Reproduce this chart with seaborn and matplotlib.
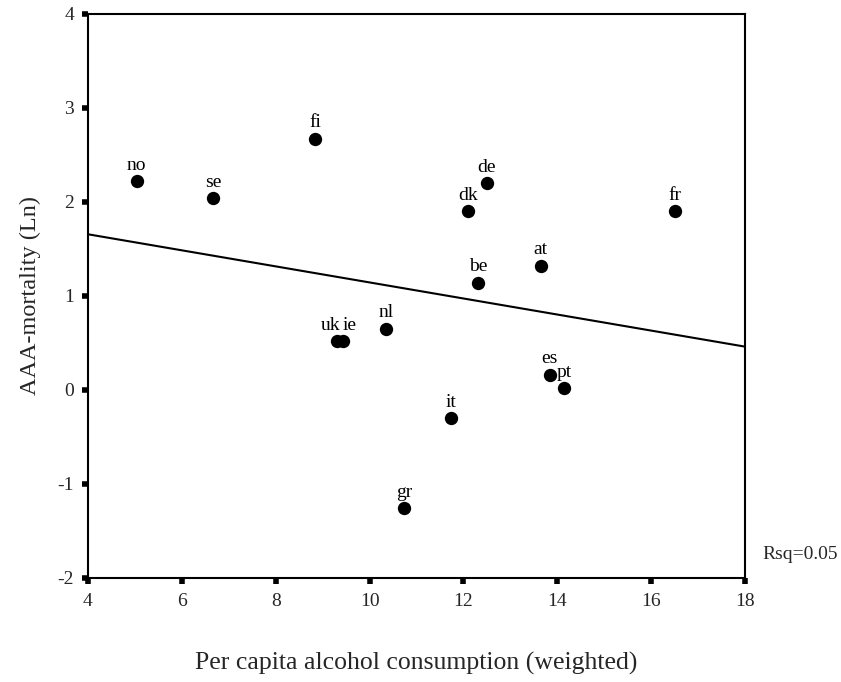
import matplotlib
matplotlib.use("Agg")
import matplotlib.pyplot as plt
import seaborn as sns
import pandas as pd
import numpy as np

countries = ["no", "se", "fi", "de", "dk", "fr", "at", "be", "nl", "uk", "ie", "es", "pt", "it", "gr"]
alcohol = [5.04, 6.66, 8.84, 12.50, 12.10, 16.51, 13.65, 12.31, 10.35, 9.31, 9.43, 13.84, 14.14, 11.73, 10.73]
mortality = [2.22, 2.04, 2.67, 2.20, 1.90, 1.90, 1.32, 1.14, 0.65, 0.52, 0.52, 0.16, 0.02, -0.30, -1.26]
x_ticks = [4, 6, 8, 10, 12, 14, 16, 18]
y_ticks = [-2, -1, 0, 1, 2, 3, 4]

df = pd.DataFrame({"country": countries, "alcohol": alcohol, "mortality": mortality})

sns.set_style("white")
plt.rcParams["font.family"] = ["Liberation Serif", "DejaVu Serif"]
plt.rcParams["axes.unicode_minus"] = False

fig = plt.figure(figsize=(8.41, 6.82), dpi=100)
ax = fig.add_axes([0.1046, 0.1525, 0.7813, 0.827])
ax.set_xlim(4, 18)
ax.set_ylim(-2, 4)

sns.regplot(data=df, x="alcohol", y="mortality", ax=ax, ci=None, truncate=False,
            scatter_kws=dict(s=92, color="black", edgecolor="black", linewidths=0,
                             alpha=1, zorder=3),
            line_kws=dict(color="black", lw=1.5))

# small horizontal nudges (points) so the crowded uk/ie labels stay legible
label_nudge = {"uk": -5, "ie": 5}
for c, xv, yv in zip(countries, alcohol, mortality):
    ax.annotate(c, (xv, yv), xytext=(label_nudge.get(c, 0), 8.3), textcoords="offset points",
                ha="center", va="baseline", fontsize=14, color="black")

ax.set_xlim(4, 18)
ax.set_ylim(-2, 4)
ax.set_xticks(x_ticks)
ax.set_yticks(y_ticks)
ax.tick_params(axis="both", direction="out", length=4, width=4, color="black",
               labelsize=14, bottom=True, left=True)
ax.tick_params(axis="x", pad=7)
ax.tick_params(axis="y", pad=6)
for s in ax.spines.values():
    s.set_color("black")
    s.set_linewidth(1.5)

ax.set_xlabel("Per capita alcohol consumption (weighted)", fontsize=18.5, labelpad=30)
ax.set_ylabel("AAA-mortality (Ln)", fontsize=17.5, labelpad=12)
ax.text(1.026, 0.041, "Rsq=0.05", transform=ax.transAxes, fontsize=14,
        ha="left", va="center")

fig.savefig("out.png", dpi=100)
